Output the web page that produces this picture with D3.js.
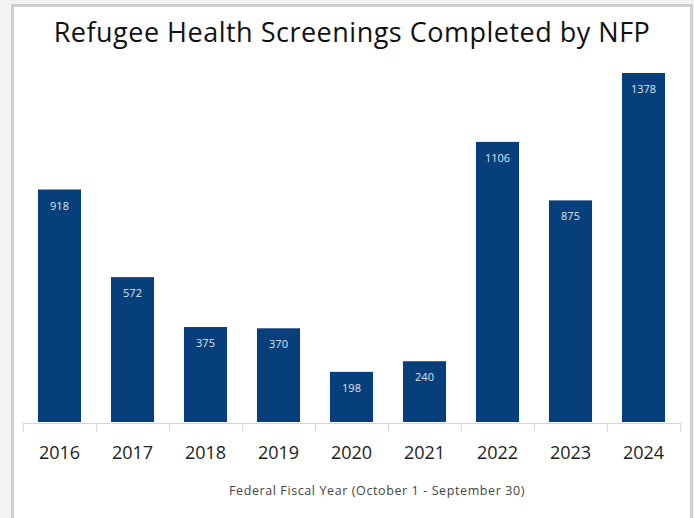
<!DOCTYPE html>
<html>
<head>
<meta charset="utf-8">
<script src="https://cdn.jsdelivr.net/npm/d3@7"></script>
<style>
  body { margin: 0; background: #f3f3f3; }
  svg { display: block; }
</style>
</head>
<body>
<div id="chart"></div>
<script>
var years = ["2016", "2017", "2018", "2019", "2020", "2021", "2022", "2023", "2024"];
var screenings = [918, 572, 375, 370, 198, 240, 1106, 875, 1378];
var titleText = "Refugee Health Screenings Completed by NFP";
var xTitle = "Federal Fiscal Year (October 1 - September 30)";

var W = 694, H = 518;
var svg = d3.select("#chart").append("svg")
    .attr("width", W)
    .attr("height", H);

// panel with grey frame
svg.append("rect")
    .attr("x", 12.5).attr("y", 5.5)
    .attr("width", 679).attr("height", H + 10)
    .attr("fill", "#fff")
    .attr("stroke", "#cfcfcf")
    .attr("stroke-width", 3);

svg.append("text")
    .attr("x", 352).attr("y", 42)
    .attr("text-anchor", "middle")
    .style("font-family", "Open Sans")
    .style("font-size", "27px")
    .style("letter-spacing", "0.5px")
    .attr("fill", "#111")
    .text(titleText);

var x = d3.scaleBand()
    .domain(years)
    .range([23, 680])
    .paddingInner(0.41)
    .paddingOuter(0.205);

var y = d3.scaleLinear()
    .domain([0, 1378])
    .range([422, 73]);

var data = years.map(function(d, i) { return { year: d, value: screenings[i] }; });

// axis line + boundary ticks
var step = x.step();
var gap = step * x.paddingInner() / 2;
svg.append("line")
    .attr("x1", 23).attr("x2", 680)
    .attr("y1", 423.5).attr("y2", 423.5)
    .attr("stroke", "#d6d6d6");

var bounds = years.map(function(d) { return x(d) - gap; }).concat([x(years[years.length - 1]) + x.bandwidth() + gap]);
svg.selectAll(".tick")
    .data(bounds)
    .enter().append("line")
    .attr("class", "tick")
    .attr("x1", function(d) { return Math.round(d) + 0.5; })
    .attr("x2", function(d) { return Math.round(d) + 0.5; })
    .attr("y1", 423).attr("y2", 431)
    .attr("stroke", "#d6d6d6");

svg.selectAll(".bar")
    .data(data)
    .enter().append("rect")
    .attr("class", "bar")
    .attr("x", function(d) { return x(d.year); })
    .attr("y", function(d) { return y(d.value); })
    .attr("width", x.bandwidth())
    .attr("height", function(d) { return y(0) - y(d.value); })
    .attr("fill", "#063f7b");

svg.selectAll(".val")
    .data(data)
    .enter().append("text")
    .attr("class", "val")
    .attr("x", function(d) { return x(d.year) + x.bandwidth() / 2; })
    .attr("y", function(d) { return y(d.value) + 20; })
    .attr("text-anchor", "middle")
    .style("font-family", "Open Sans")
    .style("font-size", "11px")
    .attr("fill", "#dfe5ee")
    .text(function(d) { return d.value; });

svg.selectAll(".yr")
    .data(years)
    .enter().append("text")
    .attr("class", "yr")
    .attr("x", function(d) { return x(d) + x.bandwidth() / 2; })
    .attr("y", 459)
    .attr("text-anchor", "middle")
    .style("font-family", "Open Sans")
    .style("font-size", "18px")
    .attr("fill", "#222")
    .text(function(d) { return d; });

svg.append("text")
    .attr("x", 377).attr("y", 495)
    .attr("text-anchor", "middle")
    .style("font-family", "Open Sans")
    .style("font-size", "12.5px")
    .style("letter-spacing", "0.6px")
    .attr("fill", "#444")
    .text(xTitle);
</script>
</body>
</html>
